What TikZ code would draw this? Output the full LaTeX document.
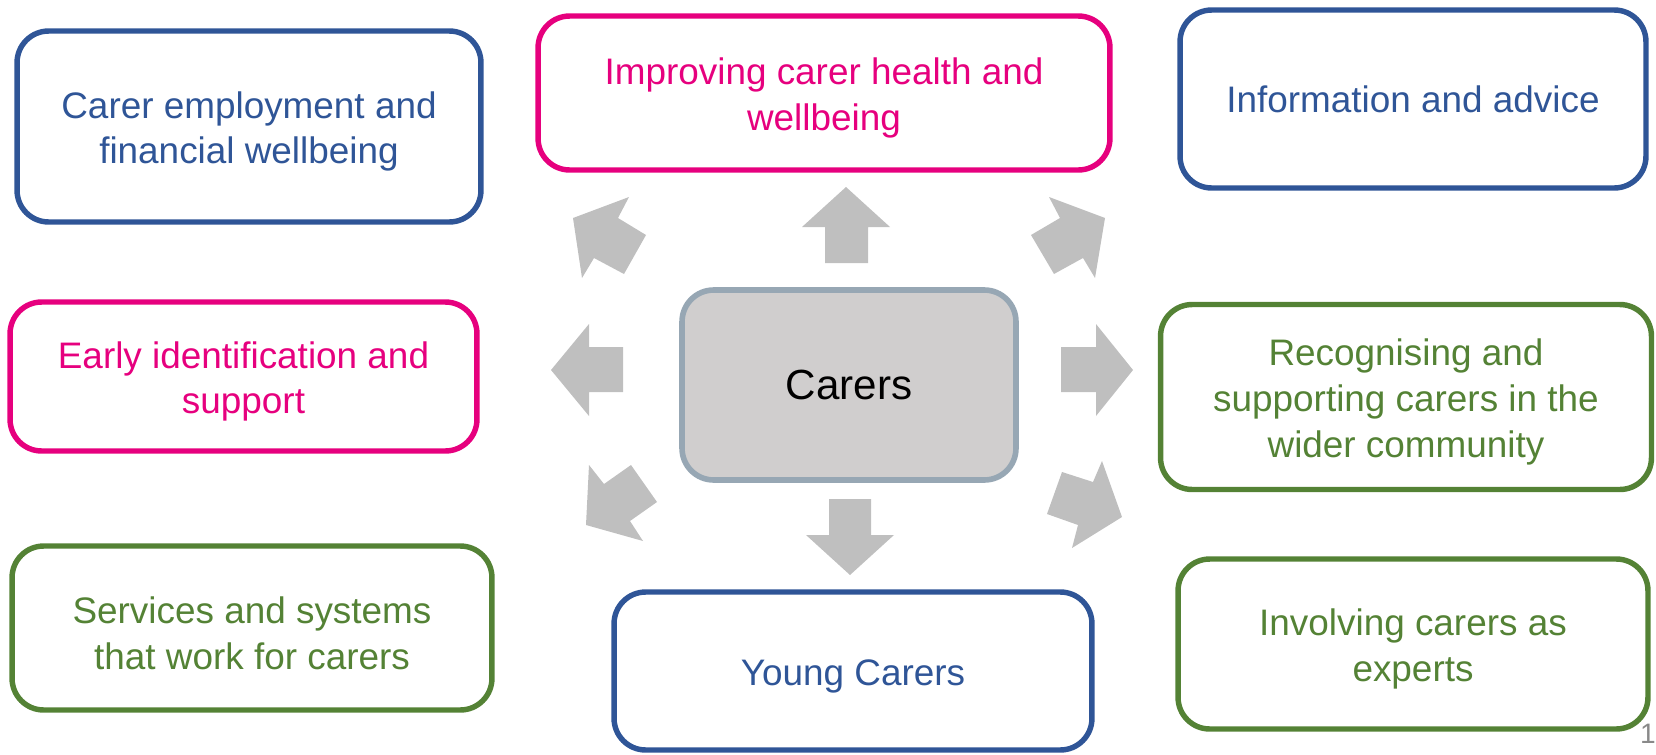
\documentclass[tikz,border=0pt]{standalone}
\usepackage{fontspec}
\setmainfont{Liberation Sans}
\definecolor{themeblue}{RGB}{47,85,151}
\definecolor{themepink}{RGB}{230,0,126}
\definecolor{themegreen}{RGB}{84,130,53}
\definecolor{hubfill}{RGB}{208,206,206}
\definecolor{hubline}{RGB}{151,167,180}
\definecolor{arrowgrey}{RGB}{191,191,191}
\definecolor{pagegrey}{RGB}{137,137,137}
% taller first line, drops the text a little in its box
\newcommand{\firststrut}{\rule{0pt}{1em}}

\begin{document}
\begin{tikzpicture}[
x=0.02cm, y=-0.02cm,
themebox/.style={
rectangle,
rounded corners=18pt,
draw=#1,
text=#1,
line width=3.1pt,
align=center,
font=\fontsize{21}{26}\selectfont,
},
hubbox/.style={
rectangle,
rounded corners=18pt,
draw=hubline,
fill=hubfill,
line width=3.2pt,
font=\fontsize{24}{29}\selectfont,
}
]
\useasboundingbox (0,0) rectangle (1656,754);

% block arrows round the hub
\fill[arrowgrey] (846,187) -- (890,227) -- (868,227) -- (868,263) -- (825,263) -- (825,227) -- (802,227) -- cycle;
\fill[arrowgrey] (850,575) -- (894,535) -- (871,535) -- (871,499) -- (829,499) -- (829,535) -- (806,535) -- cycle;
\fill[arrowgrey] (551,370) -- (589,324) -- (589,347) -- (623,347) -- (623,392) -- (589,392) -- (589,416) -- cycle;
\fill[arrowgrey] (1133,370) -- (1096,324) -- (1096,347) -- (1061,347) -- (1061,392) -- (1096,392) -- (1096,416) -- cycle;
% diagonal ones
\fill[arrowgrey] (573,218) -- (582,278) -- (594,258) -- (624,274) -- (646,235) -- (618,218) -- (629,197) -- cycle;
\fill[arrowgrey] (1105,218) -- (1095,278) -- (1083,258) -- (1054,274) -- (1031,235) -- (1060,218) -- (1049,197) -- cycle;
\fill[arrowgrey] (586,525) -- (643,541) -- (630,521) -- (657,502) -- (631,465) -- (604,484) -- (589,465) -- cycle;
\fill[arrowgrey] (1122,517) -- (1072,548) -- (1078,525) -- (1047,514) -- (1062,472) -- (1093,482) -- (1102,461) -- cycle;

% hub
\node [hubbox, minimum width=6.68cm, minimum height=3.8cm] (carers) at (849,385) {Carers};

% theme boxes
\node [themebox=themeblue, minimum width=9.28cm, minimum height=3.82cm] (employment) at (249,126.5)
{\firststrut Carer employment and\\financial wellbeing};
\node [themebox=themepink, minimum width=11.44cm, minimum height=3.08cm] (health) at (824,93)
{\firststrut Improving carer health and\\wellbeing};
\node [themebox=themeblue, minimum width=9.32cm, minimum height=3.56cm] (advice) at (1413,99)
{Information and advice};
\node [themebox=themepink, minimum width=9.34cm, minimum height=2.98cm] (early) at (243.5,376.5)
{\firststrut Early identification and\\support};
\node [themebox=themegreen, minimum width=9.82cm, minimum height=3.70cm] (community) at (1406,397)
{\firststrut Recognising and\\supporting carers in the\\wider community};
\node [themebox=themegreen, minimum width=9.60cm, minimum height=3.28cm] (services) at (252,628)
{\firststrut Services and systems\\that work for carers};
\node [themebox=themeblue, minimum width=9.56cm, minimum height=3.16cm] (young) at (853,671)
{\firststrut Young Carers};
\node [themebox=themegreen, minimum width=9.40cm, minimum height=3.40cm] (experts) at (1413,644)
{\firststrut Involving carers as\\experts};

% slide number
\node [text=pagegrey, font=\fontsize{16}{19}\selectfont, inner sep=0pt, anchor=base east] (pagenum) at (1656,743) {1};

\end{tikzpicture}
\end{document}
